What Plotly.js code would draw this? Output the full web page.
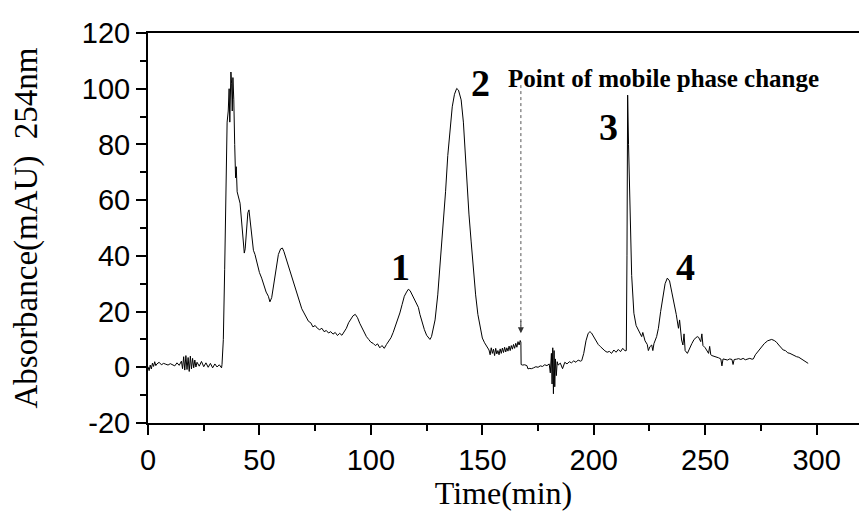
<!DOCTYPE html>
<html>
<head>
<meta charset="utf-8">
<script src="https://cdn.plot.ly/plotly-3.0.1.min.js"></script>
<style>html,body{margin:0;padding:0;background:#fff;}#chart{width:859px;height:511px;}</style>
</head>
<body>
<div id="chart"></div>
<script>
// Retention time (min)
const timeMin = [
 0,0.5,1,1.5,2,2.5,3,3.5,4,5,6,7,8,9,10,11,12,13,14,15,15.5,16,16.5,17,17.5,18,18.5,19,19.5,20,20.5,21,21.5,22,23,24,25,26,27,28,29,30,31,32,33,
 33.2,33.8,34.4,35.0,35.5,36.0,36.4,36.7,37.0,37.2,37.5,37.8,38.1,38.5,38.9,39.3,39.6,40.0,
 41.3,42.0,42.6,43.2,43.6,44.2,44.8,45.3,45.8,46.5,47.3,48,49,50,51,52,53,54,54.7,55.5,56.5,57.5,58.5,59.5,60.3,61,62,63,64,65,66,67,68,69,70,71,72,73,74,75,
 76,77,78,79,80,81,82,83,84,85,86,87,88,89,90,91,92,93,94,95,96,97,98,99,100,101,102,103,104,105,106,107,108,109,110,
 111,112,113,114,115,116,116.8,117.6,118.5,119.5,120.5,121.3,122,123,124,125,126,126.5,127.2,128,128.8,130,131,132,132.5,133.5,134.5,135.5,136.5,137.5,138.5,139.3,140.5,141.5,142.2,143,144,145,146,147,148,149,150,151,152,
 153,153.5,154,154.5,155,155.5,156,156.5,157,157.5,158,158.5,159,159.5,160,160.5,161,161.5,162,162.5,163,163.5,164,164.5,165,165.5,166,166.5,167,167.3,
 167.4,168,169,170,170.5,171,172,173,174,175,176,177,178,179,180,180.5,181,181.3,181.6,181.9,182.2,182.5,182.8,183.2,183.6,184,185,186,187,188,189,190,191,192,193,194,194.6,
 195.5,196.5,197.5,198.3,199,200,201,202,203,204,205,206,207,208,209,210,211,212,213,214,214.6,214.9,215.2,215.6,216,216.5,217,217.5,218,219,220,220.7,221.5,222,223,224,224.5,225.2,226,226.5,227,228.2,229,230,231.2,232,233,234,235,236.4,237,238,238.5,239.4,240,240.5,241,242,243,244,245,246.4,247,248,248.5,249,250,250.6,251.5,252,252.5,253,254,255,256,257,257.5,258,259,260,261,262,262.5,263,264,265,266,267,268,269,270,271,271.6,272.5,273.5,275.3,276.5,278,279.8,281,282,283,284,285,286,287,288,289,290,291,292,293,294,295,296.2
];
// Absorbance at 254 nm (mAU)
const absorbance = [
 0.2,-1.2,0.8,-0.6,1.5,0.3,2.0,0.6,1.2,1.8,0.9,1.4,1.1,0.8,1.3,0.9,0.5,1.6,0.7,2.2,-0.5,3.8,-1.0,4.2,-0.8,3.5,-1.5,4.0,-0.6,3.2,-0.2,2.6,0.1,1.8,0.4,2.1,0.2,1.6,0.0,1.4,-0.2,1.2,0.1,0.9,-0.2,
 1.0,10,35,70,88,92,100,88,104,106,102,92,104,96,80,68,72,63,
 58.9,52,46,41,42.5,50,55.5,56.5,53,46,42,40.5,37,34,32,29.5,27,25.5,23.5,25,30,36,40.5,42.5,42.8,41.5,39,36,34,31.5,29,26,23.5,21,19.5,18,16.5,16,14.5,15,
 14,13.5,14,12.8,13.2,12.3,12.8,11.9,12.5,11.4,12.2,11.5,12.8,14,16,17.5,18.5,19,17.8,15.8,14,12.5,11,10,9,8.6,7.8,8.4,7.0,7.8,6.8,8.2,9.2,10.6,12.5,
 14.8,17,19.5,22.5,25.5,27,28,27.5,26,24,22.5,21.5,19,16,13.5,11.5,10.2,10.0,11,13.5,17,26,36,46,50.5,63,76,86.4,93.5,98,100.1,99.5,96,88,78,68,55,45,35,26,19,14,10.5,8.8,7.5,
 6.2,4.5,7.0,5.0,6.5,4.2,6.8,4.8,6.0,4.5,6.6,5.0,6.9,5.3,7.2,5.5,7.0,5.8,7.6,6.0,7.8,6.5,8.2,6.8,8.6,7.2,9.2,8.0,9.6,9.0,
 1.0,0.8,0.9,0.6,-0.6,-0.4,-0.5,-0.2,0.2,0.0,0.5,0.3,0.9,0.6,1.2,-2,5,-6,7,-9.5,6,-7,3,-3,2,0.8,1.5,-0.5,1.8,1.2,2.0,1.6,2.3,1.8,2.6,2.2,2.4,
 5,9.5,12.2,12.8,12.3,10.8,9.4,8.2,7.4,6.5,5.9,5.4,5.7,5.0,6.2,5.4,6.4,5.6,6.8,5.9,6.0,40,97.7,80,62,50,33,24,19.4,15,13.2,12.2,11.0,12.5,9.5,8.2,6.0,7.4,8.0,6.0,8.5,11,14,20,26.6,30,32,31,27,21.8,19,14,17,9.8,8,12,6,5,7,8.5,10,11,10.8,9.2,12,7.8,7,6.2,5,7.5,4.5,4.2,4,3.8,3.4,3,0.5,3,2.8,2.6,3.0,2.8,1.0,2.8,2.9,3.1,2.8,3.2,2.7,3.0,3.2,2.9,3.0,4.5,5.5,7.4,8.5,9.5,10,9.6,9,8,7.2,6.2,6.0,5.2,5.0,4.5,4.2,3.8,3.6,3.0,2.6,2.0,1.4
];
// Axis tick values and labels
const xTickVals = [0,50,100,150,200,250,300];
const xTickText = ["0","50","100","150","200","250","300"];
const yTickVals = [-20,0,20,40,60,80,100,120];
const yTickText = ["-20","0","20","40","60","80","100","120"];
// Peak labels
const peakLabels = ["1","2","3","4"];
const peakLabelX = [113.5,149,206.8,241.3];
const peakLabelY = [36.1,102,86.4,36.1];
const noteText = "Point of mobile phase change";
const changeTime = 167.3;

const serif = "Liberation Serif, Times New Roman, serif";
const sans = "Liberation Sans, Arial, sans-serif";

const annotations = peakLabels.map((t,i)=>({
  x: peakLabelX[i], y: peakLabelY[i], xref:'x', yref:'y', text:'<b>'+t+'</b>',
  showarrow:false, font:{family:serif, size:38, color:'#000'}
}));
annotations.push({x:231.3, y:103.8, xref:'x', yref:'y', text:'<b>'+noteText+'</b>', showarrow:false,
  font:{family:serif, size:25, color:'#000'}});
annotations.push({x:changeTime, y:12.2, xref:'x', yref:'y', text:'', showarrow:true,
  arrowhead:2, arrowsize:1.2, arrowwidth:1, arrowcolor:'#333', ax:0, ay:-14, standoff:0});

const trace = {x: timeMin, y: absorbance, type:'scatter', mode:'lines',
  line:{color:'#000', width:1}, hoverinfo:'skip'};

const axisCommon = {
  showline:true, linewidth:2, linecolor:'#000', ticks:'outside', ticklen:10, tickwidth:2, tickcolor:'#000',
  showgrid:false, zeroline:false, tickfont:{family:sans, size:29, color:'#000'}
};

const layout = {
  width:859, height:511, margin:{l:148, r:0, t:33, b:88},
  paper_bgcolor:'#fff', plot_bgcolor:'#fff', showlegend:false,
  xaxis: Object.assign({}, axisCommon, {range:[0,319], tickmode:'array', tickvals:xTickVals, ticktext:xTickText, mirror:true,
    minor:{dtick:25, tick0:0, ticks:'outside', ticklen:6, tickwidth:2, tickcolor:'#000'},
    title:{text:'Time(min)', font:{family:serif, size:32, color:'#000'}, standoff:12}}),
  yaxis: Object.assign({}, axisCommon, {range:[-20,120], tickmode:'array', tickvals:yTickVals, ticktext:yTickText,
    minor:{dtick:10, tick0:0, ticks:'outside', ticklen:6, tickwidth:2, tickcolor:'#000'},
    title:{text:'Absorbance(mAU)\u00A0\u00A0254nm', font:{family:serif, size:33, color:'#000'}, standoff:34}}),
  shapes:[{type:'line', xref:'x', yref:'y', x0:changeTime, x1:changeTime, y0:101.3, y1:15,
    line:{color:'#555', width:1, dash:'dot'}}],
  annotations: annotations
};

Plotly.newPlot('chart', [trace], layout, {staticPlot:true, displayModeBar:false});
</script>
</body>
</html>
